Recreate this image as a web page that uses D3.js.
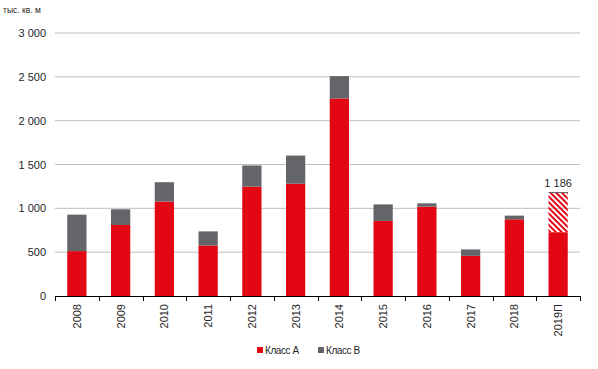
<!DOCTYPE html>
<html>
<head>
<meta charset="utf-8">
<script src="https://cdn.jsdelivr.net/npm/d3@7"></script>
<style>
  body { margin: 0; background: #fff; }
  text { font-family: "Liberation Sans", Arial, sans-serif; fill: #262626; }
</style>
</head>
<body>
<svg id="chart" width="598" height="369"></svg>
<script>
// data
const years = ["2008","2009","2010","2011","2012","2013","2014","2015","2016","2017","2018","2019П"];
const classA = [512, 810, 1077, 576, 1247, 1281, 2253, 856, 1019, 458, 875, 727];
const classB = [416, 179, 221, 161, 242, 321, 255, 189, 38, 73, 42, 459];
const yTicks = [0, 500, 1000, 1500, 2000, 2500, 3000];
const forecastTotal = 1186;

const red = "#e30613", grey = "#636569";
const svg = d3.select("#chart");

//plot area
const x = d3.scaleBand().domain(years).range([55, 580]).paddingInner(0.56).paddingOuter(0.28);
const y = d3.scaleLinear().domain([0, 3000]).range([296, 33]);

const fmt = v => d3.format(",")(v).replace(/,/g, "\u00a0");

// hatch for the forecast part
const defs = svg.append("defs");
defs.append("pattern")
  .attr("id", "hatch")
  .attr("patternUnits", "userSpaceOnUse")
  .attr("width", 4).attr("height", 4)
  .attr("patternTransform", "rotate(-45)")
  .append("rect")
  .attr("width", 2).attr("height", 4)
  .attr("fill", red);

// gridlines
svg.append("g").selectAll("line")
  .data(yTicks.filter(d => d > 0))
  .join("line")
  .attr("x1", 55).attr("x2", 580)
  .attr("y1", d => y(d)).attr("y2", d => y(d))
  .attr("stroke", "#bfbfbf").attr("stroke-width", 1);

// y tick labels
svg.append("g").selectAll("text")
  .data(yTicks)
  .join("text")
  .attr("x", 46).attr("y", d => y(d) + 4)
  .attr("text-anchor", "end")
  .attr("font-size", 11)
  .text(d => fmt(d));

svg.append("text")
  .attr("x", 3).attr("y", 13)
  .attr("font-size", 8.5)
  .text("тыс. кв. м");

// bars
const last = years.length - 1;
const bars = svg.append("g");
bars.selectAll("rect.a")
  .data(years)
  .join("rect")
  .attr("class", "a")
  .attr("x", d => x(d)).attr("width", x.bandwidth())
  .attr("y", (d, i) => y(classA[i]))
  .attr("height", (d, i) => y(0) - y(classA[i]))
  .attr("fill", red);

bars.selectAll("rect.b")
  .data(years)
  .join("rect")
  .attr("class", "b")
  .attr("x", d => x(d)).attr("width", x.bandwidth())
  .attr("y", (d, i) => y(classA[i] + classB[i]))
  .attr("height", (d, i) => y(classA[i]) - y(classA[i] + classB[i]))
  .attr("fill", (d, i) => i === last ? "url(#hatch)" : grey);

// thin top edge on the forecast part
bars.append("line")
  .attr("x1", x(years[last])).attr("x2", x(years[last]) + x.bandwidth())
  .attr("y1", y(forecastTotal) + 0.5).attr("y2", y(forecastTotal) + 0.5)
  .attr("stroke", grey).attr("stroke-width", 1);

svg.append("text")
  .attr("x", x(years[last]) + x.bandwidth() / 2)
  .attr("y", y(forecastTotal) - 5)
  .attr("text-anchor", "middle")
  .attr("font-size", 11)
  .text(fmt(forecastTotal));

// x axis
const xAxis = svg.append("g");
xAxis.append("line")
  .attr("x1", 55).attr("x2", 580)
  .attr("y1", 296.5).attr("y2", 296.5)
  .attr("stroke", "#000");
const step = x.step();
xAxis.selectAll("line.tick")
  .data(d3.range(years.length + 1))
  .join("line")
  .attr("class", "tick")
  .attr("x1", i => Math.round(55 + i * 525 / years.length) + 0.5)
  .attr("x2", i => Math.round(55 + i * 525 / years.length) + 0.5)
  .attr("y1", 296).attr("y2", 301)
  .attr("stroke", "#000");

xAxis.selectAll("text")
  .data(years)
  .join("text")
  .attr("transform", d => `translate(${x(d) + x.bandwidth() / 2 + 4},304) rotate(-90)`)
  .attr("text-anchor", "end")
  .attr("font-size", 11)
  .text(d => d);

// legend
const legend = svg.append("g");
const items = [["Класс А", red, 257], ["Класс В", grey, 318]];
items.forEach(([label, color, lx]) => {
  legend.append("rect")
    .attr("x", lx).attr("y", 347).attr("width", 6).attr("height", 6)
    .attr("fill", color);
  legend.append("text")
    .attr("x", lx + 8).attr("y", 354)
    .attr("font-size", 10)
    .attr("letter-spacing", -0.4)
    .text(label);
});
</script>
</body>
</html>
